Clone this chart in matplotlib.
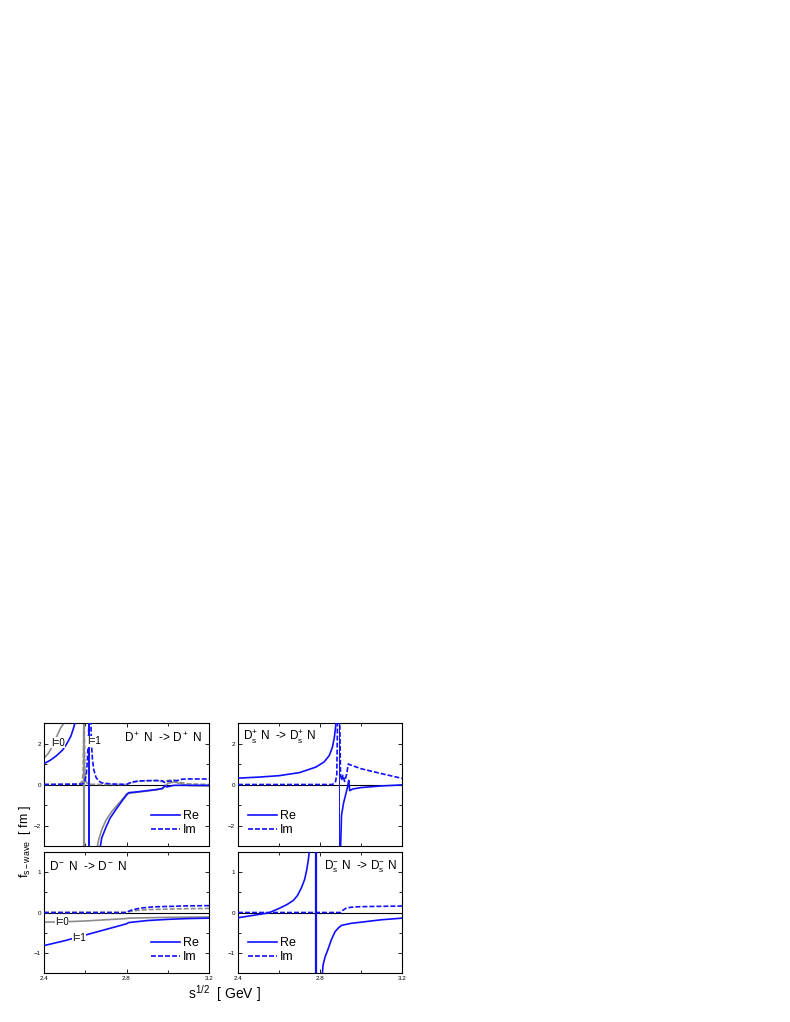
import matplotlib
matplotlib.use("Agg")
import matplotlib.pyplot as plt
from matplotlib.lines import Line2D
from matplotlib.ticker import MultipleLocator

plt.rcParams['font.family'] = ['Liberation Sans', 'DejaVu Sans']
plt.rcParams['mathtext.fontset'] = 'custom'
plt.rcParams['mathtext.rm'] = 'Liberation Sans'
plt.rcParams['mathtext.it'] = 'Liberation Sans:italic'

BLUE = '#1010ff'
GRAY = '#8c8c8c'

# ---- D+ N -> D+ N (top left) ----
dp_re1_x = [2.4, 2.43, 2.46, 2.49, 2.51, 2.53, 2.542, 2.55, 2.556]
dp_re1_y = [1.02, 1.18, 1.4, 1.68, 1.98, 2.35, 2.71, 3.0, 3.3]
dp_re_pole_x = [2.618, 2.618]
dp_re_pole_y = [-3.5, 3.5]
dp_re2_x = [2.67, 2.68, 2.7, 2.72, 2.75, 2.78, 2.8, 2.81, 2.85, 2.9, 2.95, 2.975, 2.985, 2.995, 3.03, 3.1, 3.2]
dp_re2_y = [-3.2, -2.6, -2.1, -1.65, -1.2, -0.78, -0.52, -0.4, -0.36, -0.3, -0.24, -0.2, -0.05, -0.12, -0.04, -0.04, -0.04]
dp_im_x = [2.4, 2.585, 2.598, 2.605, 2.61, 2.614, 2.62, 2.626, 2.63, 2.635, 2.642, 2.652, 2.665, 2.68, 2.72, 2.8,
           2.81, 2.83, 2.86, 2.9, 2.95, 2.975, 2.985, 2.995, 3.02, 3.05, 3.07, 3.1, 3.2]
dp_im_y = [0, 0.02, 0.15, 0.5, 1.1, 2.0, 3.5, 3.5, 2.0, 1.2, 0.7, 0.35, 0.17, 0.08, 0.03, 0.0,
           0.05, 0.13, 0.17, 0.19, 0.19, 0.18, 0.1, 0.15, 0.17, 0.2, 0.26, 0.27, 0.27]
# isospin components (gray)
dp_i0_x = [2.4, 2.42, 2.44, 2.46, 2.48, 2.5, 2.515]
dp_i0_y = [1.3, 1.5, 1.85, 2.3, 2.75, 3.05, 3.4]
dp_i1_pole_x = [2.595, 2.595]
dp_i1_pole_y = [-3.5, 3.5]
dp_i1_re_x = [2.655, 2.665, 2.68, 2.7, 2.73, 2.76, 2.79, 2.8, 2.85, 2.9, 2.95, 2.98, 3.0, 3.03, 3.06, 3.1, 3.2]
dp_i1_re_y = [-3.2, -2.7, -2.2, -1.75, -1.3, -0.95, -0.6, -0.45, -0.38, -0.32, -0.25, -0.15, 0.05, 0.12, 0.05, -0.05, -0.08]
dp_i1_im_x = [2.4, 2.57, 2.585, 2.59, 2.594, 2.598, 2.603, 2.61, 2.63, 2.7, 2.8, 2.82, 2.86, 2.95, 2.98, 3.0, 3.03, 3.06, 3.1, 3.2]
dp_i1_im_y = [0, 0.02, 0.15, 0.6, 3.5, 0.6, 0.15, 0.05, 0.01, 0, 0, 0.08, 0.16, 0.2, 0.12, 0.2, 0.22, 0.1, 0.03, 0.0]

# ---- Ds+ N -> Ds+ N (top right) ----
dsp_re1_x = [2.4, 2.5, 2.6, 2.7, 2.78, 2.82, 2.845, 2.86, 2.87, 2.876, 2.881]
dsp_re1_y = [0.31, 0.36, 0.43, 0.58, 0.85, 1.1, 1.41, 1.8, 2.3, 2.8, 3.3]
dsp_re_pole_x = [2.895, 2.895]
dsp_re_pole_y = [-3.5, 3.5]
dsp_re2_x = [2.9, 2.905, 2.915, 2.925, 2.935, 2.94, 2.945, 2.96, 3.0, 3.1, 3.2]
dsp_re2_y = [-3.2, -1.5, -0.9, -0.5, -0.1, 0.2, -0.3, -0.22, -0.15, -0.07, -0.02]
dsp_im_x = [2.4, 2.86, 2.875, 2.882, 2.886, 2.896, 2.9, 2.905, 2.912, 2.92, 2.93, 2.938, 2.95, 3.0, 3.1, 3.2]
dsp_im_y = [0, 0.0, 0.1, 0.5, 3.5, 3.5, 0.5, 0.2, 0.45, 0.15, 0.5, 1.0, 0.95, 0.77, 0.53, 0.3]

# ---- D- N -> D- N (bottom left) ----
dm_re_x = [2.4, 2.5, 2.6, 2.7, 2.8, 2.81, 2.9, 3.0, 3.1, 3.2]
dm_re_y = [-0.82, -0.7, -0.56, -0.42, -0.28, -0.25, -0.2, -0.17, -0.15, -0.14]
dm_im_x = [2.4, 2.8, 2.81, 2.83, 2.87, 2.93, 3.0, 3.1, 3.2]
dm_im_y = [0, 0, 0.03, 0.07, 0.11, 0.14, 0.15, 0.165, 0.17]
dm_i0_re_x = [2.4, 2.5, 2.6, 2.7, 2.8, 2.81, 2.9, 3.0, 3.1, 3.2]
dm_i0_re_y = [-0.24, -0.23, -0.21, -0.18, -0.15, -0.14, -0.13, -0.12, -0.115, -0.11]
dm_i0_im_x = [2.4, 2.8, 2.81, 2.85, 2.9, 3.0, 3.1, 3.2]
dm_i0_im_y = [0, 0, 0.02, 0.05, 0.07, 0.085, 0.095, 0.1]

# ---- Ds- N -> Ds- N (bottom right) ----
dsm_re1_x = [2.4, 2.45, 2.5, 2.55, 2.6, 2.64, 2.67, 2.69, 2.71, 2.725, 2.735, 2.743, 2.75]
dsm_re1_y = [-0.13, -0.09, -0.05, -0.01, 0.1, 0.2, 0.3, 0.42, 0.62, 0.82, 1.05, 1.3, 1.6]
dsm_re_pole_x = [2.78, 2.78]
dsm_re_pole_y = [-1.6, 1.6]
dsm_re2_x = [2.81, 2.815, 2.825, 2.84, 2.855, 2.873, 2.89, 2.905, 2.95, 3.0, 3.05, 3.1, 3.2]
dsm_re2_y = [-1.6, -1.3, -1.1, -0.9, -0.68, -0.48, -0.38, -0.32, -0.27, -0.24, -0.21, -0.18, -0.14]
dsm_im_x = [2.4, 2.9, 2.91, 2.925, 2.938, 2.97, 3.05, 3.2]
dsm_im_y = [0, 0, 0.05, 0.1, 0.12, 0.14, 0.15, 0.16]

fig = plt.figure(figsize=(7.9, 10.22), dpi=100)

w_l, w_r = 165 / 790, 164 / 790
ax_tl = fig.add_axes([44 / 790, 176 / 1022, w_l, 123 / 1022])
ax_tr = fig.add_axes([238 / 790, 176 / 1022, w_r, 123 / 1022])
ax_bl = fig.add_axes([44 / 790, 49 / 1022, w_l, 121 / 1022])
ax_br = fig.add_axes([238 / 790, 49 / 1022, w_r, 121 / 1022])

lw = 1.2
dash = (0, (3, 1.2))


def setup(ax, top):
    ax.set_xlim(2.4, 3.2)
    ax.xaxis.set_major_locator(MultipleLocator(0.4))
    ax.xaxis.set_minor_locator(MultipleLocator(0.2))
    if top:
        ax.set_ylim(-3, 3)
        ax.yaxis.set_major_locator(MultipleLocator(2))
        ax.yaxis.set_minor_locator(MultipleLocator(1))
        ax.tick_params(labelbottom=False)
    else:
        ax.set_ylim(-1.5, 1.5)
        ax.yaxis.set_major_locator(MultipleLocator(1))
        ax.yaxis.set_minor_locator(MultipleLocator(0.5))
    ax.tick_params(which='both', direction='in', top=True, right=True, labelsize=4.5, pad=2)
    ax.tick_params(which='major', length=3, width=0.6)
    ax.tick_params(which='minor', length=2, width=0.6)
    for s in ax.spines.values():
        s.set_linewidth(0.8)
    ax.axhline(0, color='black', lw=0.8, zorder=1)


for ax, top in [(ax_tl, True), (ax_tr, True), (ax_bl, False), (ax_br, False)]:
    setup(ax, top)

lab_box = dict(fc='white', ec='none', pad=0.3)

# top left
ax = ax_tl
ax.plot(dp_i0_x, dp_i0_y, color=GRAY, lw=lw, zorder=2)
ax.plot(dp_i1_pole_x, dp_i1_pole_y, color=GRAY, lw=1.6, zorder=2)
ax.plot(dp_i1_re_x, dp_i1_re_y, color=GRAY, lw=lw, zorder=2)
ax.plot(dp_i1_im_x, dp_i1_im_y, color=GRAY, lw=lw, ls=dash, zorder=2)
ax.plot(dp_re1_x, dp_re1_y, color=BLUE, lw=lw, zorder=3)
ax.plot(dp_re_pole_x, dp_re_pole_y, color=BLUE, lw=1.4, zorder=3)
ax.plot(dp_re2_x, dp_re2_y, color=BLUE, lw=lw, zorder=3)
ax.plot(dp_im_x, dp_im_y, color=BLUE, lw=lw, ls=dash, zorder=3)
ax.text(2.466, 2.03, 'I=0', fontsize=7, ha='center', va='center', bbox=lab_box, zorder=4)
ax.text(2.642, 2.1, 'I=1', fontsize=7, ha='center', va='center', bbox=lab_box, zorder=4)
ax.text(0.96, 0.88, r'D$^+$ N  -> D$^+$ N', transform=ax.transAxes, fontsize=8.5, ha='right', va='center')

# top right
ax = ax_tr
ax.plot(dsp_re1_x, dsp_re1_y, color=BLUE, lw=lw, zorder=3)
ax.plot(dsp_re_pole_x, dsp_re_pole_y, color=BLUE, lw=0.7, zorder=3)
ax.plot(dsp_re2_x, dsp_re2_y, color=BLUE, lw=lw, zorder=3)
ax.plot(dsp_im_x, dsp_im_y, color=BLUE, lw=lw, ls=dash, zorder=3)
ax.text(0.03, 0.88, r'D$_{\mathrm{s}}^{+}$ N  -> D$_{\mathrm{s}}^{+}$ N', transform=ax.transAxes,
        fontsize=8.5, ha='left', va='center')

# bottom left
ax = ax_bl
ax.plot(dm_i0_re_x, dm_i0_re_y, color=GRAY, lw=lw, zorder=2)
ax.plot(dm_i0_im_x, dm_i0_im_y, color=GRAY, lw=lw, ls=dash, zorder=2)
ax.plot(dm_re_x, dm_re_y, color=BLUE, lw=lw, zorder=3)
ax.plot(dm_im_x, dm_im_y, color=BLUE, lw=lw, ls=dash, zorder=3)
ax.text(2.488, -0.23, 'I=0', fontsize=7, ha='center', va='center', bbox=lab_box, zorder=4)
ax.text(2.57, -0.62, 'I=1', fontsize=7, ha='center', va='center', bbox=lab_box, zorder=4)
ax.text(0.03, 0.88, r'D$^-$ N  -> D$^-$ N', transform=ax.transAxes, fontsize=8.5, ha='left', va='center')

# bottom right
ax = ax_br
ax.plot(dsm_re1_x, dsm_re1_y, color=BLUE, lw=lw, zorder=3)
ax.plot(dsm_re_pole_x, dsm_re_pole_y, color=BLUE, lw=1.6, zorder=3)
ax.plot(dsm_re2_x, dsm_re2_y, color=BLUE, lw=lw, zorder=3)
ax.plot(dsm_im_x, dsm_im_y, color=BLUE, lw=lw, ls=dash, zorder=3)
ax.text(0.97, 0.88, r'D$_{\mathrm{s}}^{-}$ N  -> D$_{\mathrm{s}}^{-}$ N', transform=ax.transAxes,
        fontsize=8.5, ha='right', va='center')

handles = [Line2D([], [], color=BLUE, lw=lw), Line2D([], [], color=BLUE, lw=lw, ls=dash)]
for ax, loc in [(ax_tl, 'lower right'), (ax_tr, 'lower left'), (ax_bl, 'lower right'), (ax_br, 'lower left')]:
    ax.legend(handles, ['Re', 'Im'], loc=loc, frameon=False, fontsize=9, handlelength=2.3,
              handletextpad=0.25, labelspacing=0.15, borderaxespad=0.4)

fig.text(0.032, 0.176, r'f$_{\mathrm{s-wave}}$  [ fm ]', rotation=90, fontsize=9, ha='center', va='center')
fig.text(0.284, 0.028, r's$^{1/2}$  [ GeV ]', fontsize=10, ha='center', va='center')

fig.savefig('out.png', dpi=100)
